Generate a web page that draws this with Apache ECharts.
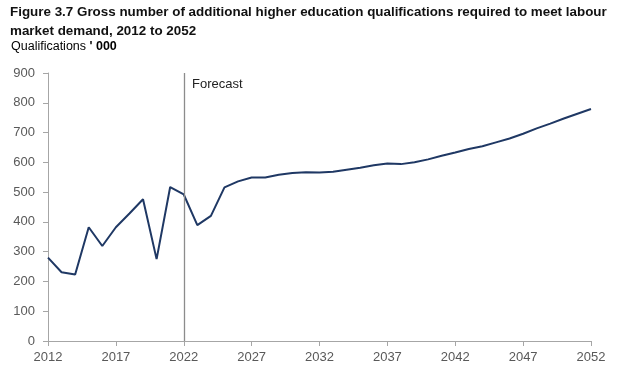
<!DOCTYPE html>
<html><head><meta charset="utf-8">
<script src="https://cdn.jsdelivr.net/npm/echarts@6/dist/echarts.min.js"></script>
<style>html,body{margin:0;padding:0;background:#fff}#c{width:630px;height:383px}</style>
</head><body><div id="c"></div>
<script>
const years = [2012,2013,2014,2015,2016,2017,2018,2019,2020,2021,2022,2023,2024,2025,2026,2027,2028,2029,2030,2031,2032,2033,2034,2035,2036,2037,2038,2039,2040,2041,2042,2043,2044,2045,2046,2047,2048,2049,2050,2051,2052];
const qualifications = [280,231,223,382,319,382,428,476,275,517,492,389,420,516,536,549,549,558,564,567,566,568,575,582,590,596,594,600,610,622,633,645,654,667,680,696,714,730,747,763,779];
const forecastStart = 2022;
const titleLines = ['Figure 3.7 Gross number of additional higher education qualifications required to meet labour','market demand, 2012 to 2052'];

const chart = echarts.init(document.getElementById('c'));
const ff = '"Liberation Sans", Arial, sans-serif';
chart.setOption({
  animation:false,
  textStyle:{fontFamily:ff},
  title:{text:titleLines.join('\n'),left:10,top:2.5,padding:0,
    textStyle:{fontSize:13.4,fontWeight:'bold',color:'#111',lineHeight:19,fontFamily:ff}},
  graphic:[
    {type:'text',left:11,top:40.5,style:{text:"{a|Qualifications }{b|' 000}",rich:{a:{fontSize:12.5,color:'#333',fontFamily:ff},b:{fontSize:12.5,fontWeight:'bold',color:'#222',fontFamily:ff}}}},
    {type:'text',left:192,top:78,style:{text:'Forecast',fontSize:13,fill:'#222',fontFamily:ff}}
  ],
  grid:{left:48,right:39,top:73,bottom:42},
  xAxis:{type:'value',min:2012,max:2052,interval:5,
    axisLine:{lineStyle:{color:'#a6a6a6'}},
    axisTick:{show:true,length:5,lineStyle:{color:'#a6a6a6'}},
    axisLabel:{color:'#595959',fontSize:13,margin:10,formatter:v=>String(v)},
    splitLine:{show:false}},
  yAxis:{type:'value',min:0,max:900,interval:100,
    axisLine:{show:true,lineStyle:{color:'#a6a6a6'}},
    axisTick:{show:true,length:5,lineStyle:{color:'#a6a6a6'}},
    axisLabel:{color:'#595959',fontSize:13,margin:13},
    splitLine:{show:false}},
  series:[{type:'line',data:years.map((y,i)=>[y,qualifications[i]]),
    showSymbol:false,symbol:'none',lineStyle:{color:'#1f3864',width:2},
    markLine:{silent:true,symbol:['none','none'],label:{show:false},
      lineStyle:{color:'#8c8c8c',width:1.3,type:'solid'},
      data:[{xAxis:forecastStart}]}}]
});
</script></body></html>
